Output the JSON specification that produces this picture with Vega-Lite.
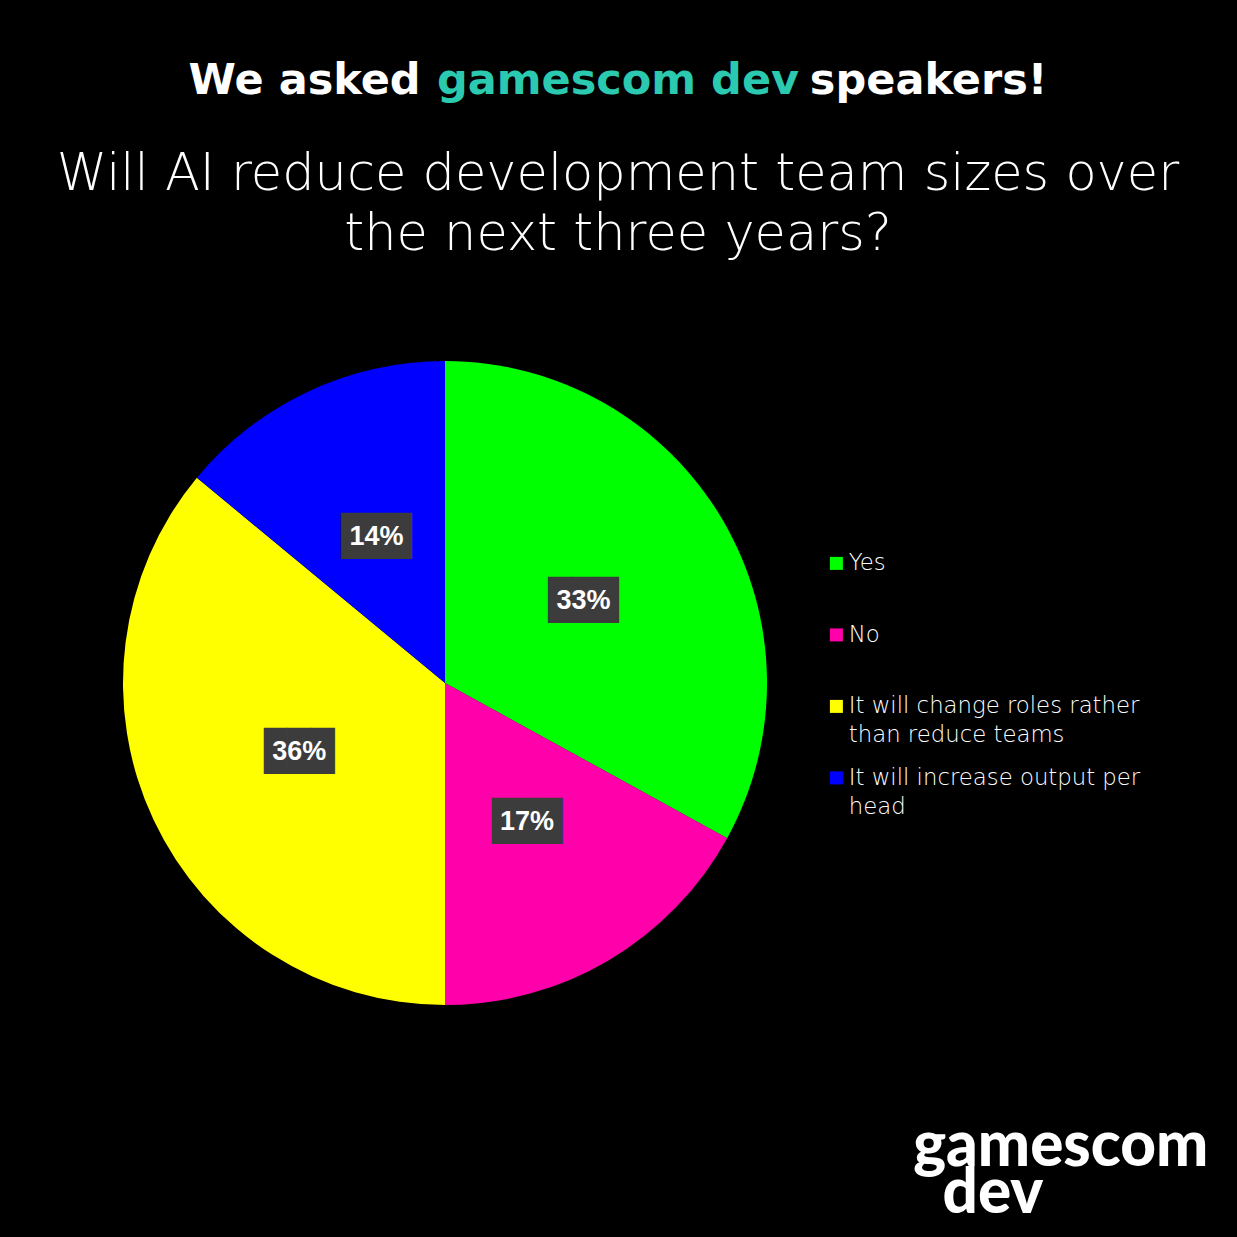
{
  "$schema": "https://vega.github.io/schema/vega-lite/v6.json",
  "background": "#000000",
  "padding": {"left": 56, "top": 60, "right": 30, "bottom": 15},
  "config": {"view": {"stroke": null}, "concat": {"spacing": 0}, "style": {"guide-label": {"lineHeight": 29}}},
  "title": {
    "text": ["gamescom", "\u200b\u00a0\u00a0dev"],
    "orient": "bottom",
    "anchor": "end",
    "frame": "bounds",
    "align": "left",
    "dx": -266,
    "font": "Lato",
    "fontWeight": 900,
    "fontSize": 62,
    "lineHeight": 47,
    "color": "#ffffff",
    "offset": 112
  },
  "vconcat": [
    {
      "title": {
        "text": "We asked\u00a0\u00a0\u00a0\u00a0\u00a0\u00a0\u00a0\u00a0\u00a0\u00a0\u00a0\u00a0\u00a0\u00a0\u00a0\u00a0\u00a0\u00a0\u00a0\u00a0\u00a0\u00a0\u00a0\u00a0\u00a0\u00a0speakers!",
        "subtitle": "gamescom dev",
        "anchor": "middle",
        "frame": "bounds",
        "font": "DejaVu Sans",
        "fontWeight": "bold",
        "fontSize": 43,
        "color": "#ffffff",
        "subtitleFont": "DejaVu Sans",
        "subtitleFontWeight": "bold",
        "subtitleFontSize": 43,
        "subtitleColor": "#2bc9b0",
        "subtitlePadding": -43,
        "offset": 46
      },
      "vconcat": [
        {
          "title": {
            "text": ["Will AI reduce development team sizes over", "the next three years?"],
            "anchor": "middle",
            "dx": 173,
            "font": "DejaVu Sans",
            "fontWeight": 200,
            "fontSize": 51,
            "lineHeight": 60,
            "color": "#ffffff",
            "offset": 100
          },
          "width": 644,
          "height": 644,
          "data": {
            "values": [
              {"answer": "Yes", "share": 0.33, "idx": 1},
              {"answer": "No", "share": 0.17, "idx": 2},
              {"answer": "It will change roles rather than reduce teams", "share": 0.36, "idx": 3},
              {"answer": "It will increase output per head", "share": 0.14, "idx": 4}
            ]
          },
          "encoding": {
            "theta": {"field": "share", "type": "quantitative", "stack": true},
            "order": {"field": "idx", "type": "quantitative"}
          },
          "layer": [
            {
              "mark": {"type": "arc", "radius": 322},
              "encoding": {
                "color": {
                  "field": "answer",
                  "type": "nominal",
                  "scale": {
                    "domain": ["Yes", "No", "It will change roles rather than reduce teams", "It will increase output per head"],
                    "range": ["#00ff00", "#ff00aa", "#ffff00", "#0000ff"]
                  },
                  "legend": {
                    "title": null,
                    "orient": "none",
                    "legendX": 702,
                    "legendY": 191,
                    "symbolType": "square",
                    "symbolSize": 169,
                    "symbolStrokeWidth": 0,
                    "labelFont": "DejaVu Sans",
                    "labelFontWeight": 200,
                    "labelFontSize": 22.8,
                    "labelColor": "#ffffff",
                    "labelLimit": 400,
                    "labelOffset": 1,
                    "rowPadding": 18.5,
                    "labelExpr": "datum.label == 'It will change roles rather than reduce teams' ? ['It will change roles rather', 'than reduce teams'] : datum.label == 'It will increase output per head' ? ['It will increase output per', 'head'] : [datum.label, '\u00a0']"
                  }
                }
              }
            },
            {
              "mark": {"type": "text", "radius": 161, "text": "\u2588\u2588\u2588", "font": "DejaVu Sans Mono", "fontSize": 39, "color": "#3c3c3c", "baseline": "middle", "align": "center"},
              "encoding": {"detail": {"field": "answer"}}
            },
            {
              "mark": {"type": "text", "radius": 161, "font": "Liberation Sans", "fontWeight": "bold", "fontSize": 27, "color": "#ffffff", "baseline": "middle", "align": "center"},
              "encoding": {
                "detail": {"field": "answer"},
                "text": {"field": "share", "type": "quantitative", "format": ".0%"}
              }
            }
          ]
        }
      ]
    }
  ]
}
